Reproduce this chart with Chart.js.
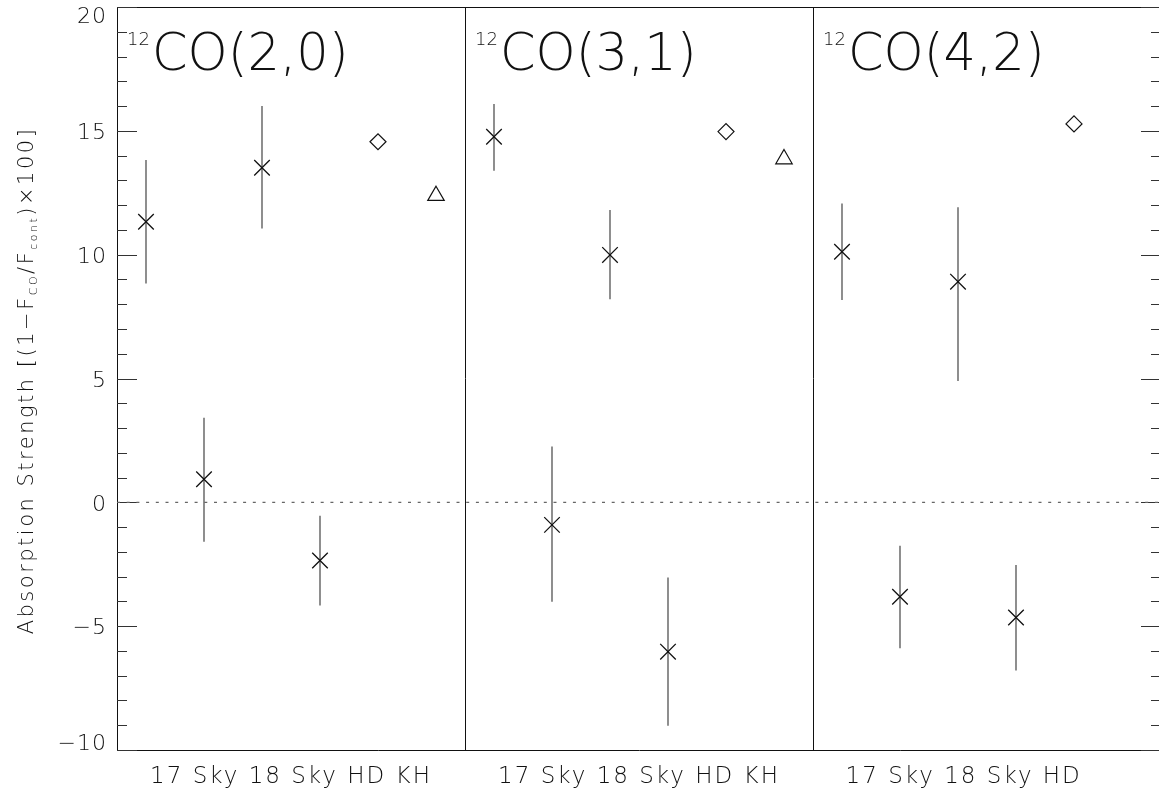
<!DOCTYPE html>
<html>
<head>
<meta charset="utf-8">
<script src="https://cdn.jsdelivr.net/npm/chart.js@4.4.1/dist/chart.umd.min.js"></script>
<style>
  html, body { margin: 0; padding: 0; overflow: hidden; background: #fff; }
  canvas { display: block; }
</style>
</head>
<body>
<canvas id="coChart" width="1163" height="798"></canvas>
<script>
// categories along each panel, and the band shown in each panel
const categories = ['17', 'Sky', '18', 'Sky', 'HD', 'KH'];
const bands = ['(2,0)', '(3,1)', '(4,2)'];
const yTickValues = [-10, -5, 0, 5, 10, 15, 20];

// the four "x" points of each panel (17, Sky, 18, Sky) with error bar ends
const co20Values = [11.33, 0.93, 13.51, -2.35];
const co20Upper  = [13.82, 3.42, 16.0, -0.54];
const co20Lower  = [8.84, -1.59, 11.06, -4.17];

const co31Values = [14.76, -0.91, 9.99, -6.03];
const co31Upper  = [16.08, 2.25, 11.8, -3.03];
const co31Lower  = [13.39, -4.01, 8.2, -9.02];

const co42Values = [10.12, -3.81, 8.91, -4.65];
const co42Upper  = [12.07, -1.75, 11.91, -2.53];
const co42Lower  = [8.17, -5.89, 4.9, -6.79];

// reference stars, one per panel (null = not measured)
const hdValues = [14.56, 14.97, 15.28];
const khValues = [12.38, 13.86, null];

const FONT = '"DejaVu Sans", sans-serif';
const WEIGHT = '200';
const INK = '#111';

const panelValues = [co20Values, co31Values, co42Values];
const panelUpper = [co20Upper, co31Upper, co42Upper];
const panelLower = [co20Lower, co31Lower, co42Lower];
const nCat = categories.length;
const xOf = (p, i) => p * nCat + i + 0.5;

const crossPoints = [];
const errorBars = [];
panelValues.forEach((vals, p) => {
  vals.forEach((v, i) => {
    crossPoints.push({ x: xOf(p, i), y: v });
    errorBars.push({ x: xOf(p, i), lo: panelLower[p][i], hi: panelUpper[p][i] });
  });
});
const hdPoints = hdValues.map((v, p) => ({ x: xOf(p, 4), y: v })).filter(d => d.y !== null);
const khPoints = khValues.map((v, p) => ({ x: xOf(p, 5), y: v })).filter(d => d.y !== null);

// one label line per panel; a missing category keeps its room as blank space
const panelLabels = bands.map((b, p) => categories.map((c, i) => {
  const present = i < 4 || (i === 4 ? hdValues[p] !== null : khValues[p] !== null);
  return present ? c : '\u00a0'.repeat(c.length * 2);
}).join(' '));
const panelCenters = bands.map((b, p) => p * nCat + nCat / 2);
const panelEdges = bands.slice(1).map((b, p) => (p + 1) * nCat);

const decorations = {
  id: 'decorations',
  beforeDraw(chart) {
    chart.ctx.letterSpacing = '2px';
  },
  beforeDatasetsDraw(chart) {
    const { ctx, chartArea: a, scales: { x, y } } = chart;
    ctx.save();
    ctx.letterSpacing = '0px';
    ctx.strokeStyle = INK;
    ctx.lineWidth = 1;
    // top edge of the frame (right edge sits just past the page)
    const top = Math.round(a.top) + 0.5;
    ctx.beginPath();
    ctx.moveTo(a.left, top);
    ctx.lineTo(a.right, top);
    ctx.stroke();
    // panel dividers
    panelEdges.forEach(e => {
      const px = Math.round(x.getPixelForValue(e)) + 0.5;
      ctx.beginPath();
      ctx.moveTo(px, a.top);
      ctx.lineTo(px, a.bottom);
      ctx.stroke();
    });
    // y tick marks on both sides, minor every 1
    ctx.strokeStyle = '#333';
    for (let v = y.min; v <= y.max; v++) {
      const major = v % 5 === 0;
      const len = major ? 20 : 10;
      const py = Math.round(y.getPixelForValue(v)) + 0.5;
      ctx.beginPath();
      ctx.moveTo(a.left, py);
      ctx.lineTo(a.left + len, py);
      ctx.moveTo(a.right, py);
      ctx.lineTo(a.right - len, py);
      ctx.stroke();
    }
    // error bars
    ctx.strokeStyle = '#444';
    ctx.lineWidth = 1.2;
    errorBars.forEach(b => {
      const px = x.getPixelForValue(b.x);
      ctx.beginPath();
      ctx.moveTo(px, y.getPixelForValue(b.lo));
      ctx.lineTo(px, y.getPixelForValue(b.hi));
      ctx.stroke();
    });
    ctx.restore();
  },
  afterDraw(chart) {
    const { ctx, chartArea: a, scales: { x, y } } = chart;
    const f = s => WEIGHT + ' ' + s + 'px ' + FONT;
    ctx.save();
    ctx.fillStyle = '#111';
    ctx.letterSpacing = '1px';
    // y tick labels
    ctx.font = f(22);
    ctx.textAlign = 'right';
    ctx.textBaseline = 'middle';
    yTickValues.forEach(v => {
      let py = y.getPixelForValue(v) + 2.5;
      if (v === y.max) py = a.top + 10;
      if (v === y.min) py = a.bottom - 6;
      ctx.fillText(String(v).replace('-', '\u2212'), a.left - 10, py);
    });
    // panel titles
    ctx.textAlign = 'left';
    ctx.textBaseline = 'alphabetic';
    ctx.letterSpacing = '0px';
    bands.forEach((b, p) => {
      let px = x.getPixelForValue(p * nCat) + 10;
      ctx.font = f(18);
      ctx.fillText('12', px, 45);
      px += ctx.measureText('12').width + 2;
      ctx.font = f(51);
      ctx.fillText('CO' + b, px, 70);
    });
    // rotated y axis title
    const parts = [
      { t: 'Absorption Strength [(1\u2212F', s: 21, dy: 0 },
      { t: 'CO', s: 11, dy: 4 },
      { t: '/F', s: 21, dy: 0 },
      { t: 'cont', s: 11, dy: 4 },
      { t: ')\u00d7100]', s: 21, dy: 0 }
    ];
    ctx.letterSpacing = '2.5px';
    let total = 0;
    parts.forEach(pt => { ctx.font = f(pt.s); pt.w = ctx.measureText(pt.t).width; total += pt.w; });
    ctx.translate(33, (a.top + a.bottom) / 2 + 2);
    ctx.rotate(-Math.PI / 2);
    let cx = -total / 2;
    parts.forEach(pt => {
      ctx.font = f(pt.s);
      ctx.fillText(pt.t, cx, pt.dy);
      cx += pt.w;
    });
    ctx.restore();
  }
};

new Chart(document.getElementById('coChart'), {
  type: 'scatter',
  data: {
    datasets: [
      {
        type: 'line',
        data: [{ x: 0, y: 0 }, { x: nCat * bands.length, y: 0 }],
        borderColor: '#666',
        borderWidth: 1.3,
        borderDash: [3, 6.7],
        pointRadius: 0
      },
      {
        data: crossPoints,
        pointStyle: 'crossRot',
        pointRadius: 11,
        borderColor: INK,
        borderWidth: 1.3
      },
      {
        data: hdPoints,
        pointStyle: 'rectRot',
        pointRadius: 8,
        backgroundColor: '#fff',
        borderColor: INK,
        borderWidth: 1.2
      },
      {
        data: khPoints,
        pointStyle: 'triangle',
        pointRadius: 9.5,
        backgroundColor: '#fff',
        borderColor: INK,
        borderWidth: 1.2
      }
    ]
  },
  options: {
    responsive: false,
    animation: false,
    events: [],
    layout: { autoPadding: false, padding: { top: 7, right: 2, left: 0, bottom: 0 } },
    plugins: { legend: { display: false }, tooltip: { enabled: false } },
    scales: {
      x: {
        type: 'linear',
        min: 0,
        max: nCat * bands.length,
        afterBuildTicks: axis => { axis.ticks = panelCenters.map(v => ({ value: v })); },
        afterFit: axis => { axis.height = 48; axis.paddingLeft = 0; axis.paddingRight = 0; },
        grid: { display: false, drawTicks: false },
        border: { display: true, color: INK, width: 1 },
        ticks: {
          autoSkip: false,
          maxRotation: 0,
          padding: 13,
          color: '#111',
          font: { family: FONT, size: 23, weight: WEIGHT },
          callback: (value, index) => panelLabels[index]
        }
      },
      y: {
        min: -10,
        max: 20,
        afterFit: axis => { axis.width = 117; },
        grid: { display: false, drawTicks: false },
        border: { display: true, color: INK, width: 1 },
        ticks: { display: false, stepSize: 5 }
      }
    }
  },
  plugins: [decorations]
});
</script>
</body>
</html>
